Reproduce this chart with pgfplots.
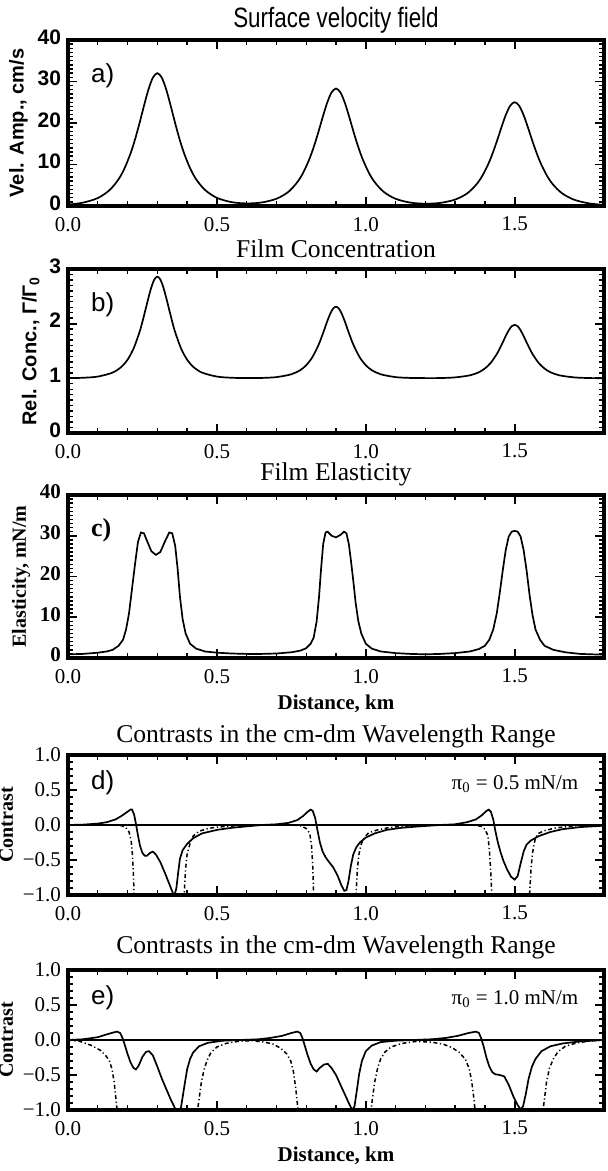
\documentclass[border=0pt]{standalone}
\usepackage{fontspec}
\setmainfont{Liberation Serif}
\setsansfont{Liberation Sans}
\newfontfamily\narrowsans[FakeStretch=0.80]{Liberation Sans}
\usepackage{pgfplots}
\pgfplotsset{compat=1.18}
\pgfplotsset{
 panel/.style={
  scale only axis, width=268pt, anchor=south west,
  xmin=0, xmax=1.8,
  xtick={0,0.5,1,1.5}, xticklabels={0.0,0.5,1.0,1.5},
  minor x tick num=4,
  tick align=inside,
  major tick length=4.5pt, minor tick length=2.5pt,
  every tick/.style={black, line width=0.9pt},
  every minor tick/.style={black, line width=0.7pt},
  axis line style={line width=1.6pt},
  /pgf/number format/assume math mode=true,
  tick label style={font=\fontsize{10.5}{12}\selectfont},
  xticklabel style={yshift=-2pt},
  title style={font=\fontsize{12.8}{15}\selectfont, yshift=-4pt},
  xlabel style={font=\bfseries\fontsize{10.5}{12}\selectfont, yshift=1pt},
  clip=true,
 },
 curve/.style={black, line width=0.85pt, mark=none},
 dd/.style={black, line width=0.75pt, mark=none, dash pattern=on 2pt off 1.3pt on 0.6pt off 1.3pt},
}
\begin{document}
\begin{tikzpicture}
\path[use as bounding box] (0,0) rectangle (303.5pt,585.5pt);

% ---------------- a) ----------------
\begin{axis}[panel, at={(34pt,482.5pt)}, height=83pt,
  ymin=0, ymax=40, ytick={0,10,20,30,40}, yticklabels={0,10,20,30,40},
  minor y tick num=9,
  yticklabel style={font=\sffamily\bfseries\fontsize{10.5}{12}\selectfont, yshift=1.5pt},
  ylabel={Vel. Amp., cm/s},
  ylabel style={font=\sffamily\bfseries\fontsize{10}{12}\selectfont, yshift=-2pt},
  title={\narrowsans Surface velocity field},
  title style={font=\fontsize{14}{16}\selectfont, yshift=-2pt}]
\addplot[curve, smooth] coordinates {
(0.00,0.33) (0.05,0.80) (0.10,1.91) (0.14,3.85) (0.17,6.47) (0.19,9.10)
(0.21,12.66) (0.225,16.01) (0.24,19.91) (0.255,24.10) (0.27,28.03) (0.285,30.92)
(0.30,32.0) (0.315,30.92) (0.33,28.03) (0.345,24.10) (0.36,19.91) (0.375,16.01)
(0.39,12.66) (0.41,9.10) (0.43,6.47) (0.46,3.87) (0.50,1.96) (0.55,0.92)
(0.60,0.62) (0.65,0.84) (0.70,1.74) (0.74,3.40) (0.77,5.73) (0.79,8.05)
(0.81,11.20) (0.825,14.16) (0.84,17.61) (0.855,21.32) (0.87,24.79) (0.885,27.35)
(0.90,28.3) (0.915,27.35) (0.93,24.79) (0.945,21.32) (0.96,17.61) (0.975,14.16)
(0.99,11.20) (1.01,8.05) (1.03,5.73) (1.06,3.42) (1.10,1.73) (1.15,0.81)
(1.20,0.55) (1.25,0.74) (1.30,1.54) (1.34,3.01) (1.37,5.06) (1.39,7.11)
(1.41,9.89) (1.425,12.51) (1.44,15.55) (1.455,18.83) (1.47,21.9) (1.485,24.16)
(1.50,25.0) (1.515,24.16) (1.53,21.9) (1.545,18.83) (1.56,15.55) (1.575,12.51)
(1.59,9.89) (1.61,7.11) (1.63,5.06) (1.66,3.01) (1.70,1.50) (1.75,0.62) (1.80,0.26)};
\node[anchor=north west, font=\sffamily\fontsize{13}{15}\selectfont] at (rel axis cs:0.03,0.90) {a)};
\end{axis}

% ---------------- b) ----------------
\begin{axis}[panel, at={(34pt,369pt)}, height=82pt,
  ymin=0, ymax=3, ytick={0,1,2,3}, yticklabels={0,1,2,3},
  minor y tick num=9,
  yticklabel style={font=\sffamily\bfseries\fontsize{10.5}{12}\selectfont, yshift=1.5pt},
  ylabel={Rel. Conc., Γ/Γ\textsubscript{0}},
  ylabel style={font=\sffamily\bfseries\fontsize{10}{12}\selectfont, yshift=-2pt},
  title={Film Concentration}]
\addplot[curve, smooth] coordinates {
(0.00,1.003) (0.05,1.010) (0.10,1.032) (0.15,1.105) (0.18,1.213) (0.20,1.341)
(0.22,1.542) (0.24,1.843) (0.25,2.036) (0.26,2.250) (0.27,2.469) (0.28,2.667)
(0.29,2.808) (0.30,2.86) (0.31,2.808) (0.32,2.667) (0.33,2.469) (0.34,2.250)
(0.35,2.036) (0.36,1.843) (0.38,1.542) (0.40,1.341) (0.42,1.213) (0.45,1.105)
(0.50,1.032) (0.55,1.010) (0.60,1.005) (0.65,1.007) (0.70,1.022) (0.75,1.074)
(0.78,1.150) (0.80,1.240) (0.82,1.381) (0.84,1.594) (0.85,1.730) (0.86,1.880)
(0.87,2.035) (0.88,2.174) (0.89,2.274) (0.90,2.31) (0.91,2.274) (0.92,2.174)
(0.93,2.035) (0.94,1.880) (0.95,1.730) (0.96,1.594) (0.98,1.381) (1.00,1.240)
(1.02,1.150) (1.05,1.074) (1.10,1.022) (1.15,1.007) (1.20,1.004) (1.25,1.005)
(1.30,1.017) (1.35,1.055) (1.38,1.112) (1.40,1.180) (1.42,1.285) (1.44,1.444)
(1.45,1.546) (1.46,1.658) (1.47,1.774) (1.48,1.878) (1.49,1.953) (1.50,1.98)
(1.51,1.953) (1.52,1.878) (1.53,1.774) (1.54,1.658) (1.55,1.546) (1.56,1.444)
(1.58,1.285) (1.60,1.180) (1.62,1.112) (1.65,1.055) (1.70,1.017) (1.75,1.005) (1.80,1.002)};
\node[anchor=north west, font=\sffamily\fontsize{13}{15}\selectfont] at (rel axis cs:0.03,0.90) {b)};
\end{axis}

% ---------------- c) ----------------
\begin{axis}[panel, at={(34pt,256.5pt)}, height=81.5pt,
  ymin=0, ymax=40, ytick={0,10,20,30,40}, yticklabels={0,10,20,30,40},
  minor y tick num=9,
  yticklabel style={font=\bfseries\fontsize{10.5}{12}\selectfont, yshift=1.5pt},
  ylabel={Elasticity, mN/m},
  ylabel style={font=\bfseries\fontsize{10}{12}\selectfont, yshift=-2pt},
  xlabel={Distance, km},
  title={Film Elasticity},
  title style={yshift=-1pt}]
\addplot[curve] coordinates {
(0.00,0.9) (0.05,1.0) (0.10,1.3) (0.13,1.6) (0.15,2.0) (0.17,3.0) (0.185,4.5)
(0.195,7) (0.205,11) (0.215,17) (0.225,23) (0.235,28.5) (0.245,30.8) (0.255,30.6)
(0.265,28.8) (0.28,26.2) (0.295,25.3) (0.31,26.0) (0.325,28.5) (0.34,30.8)
(0.35,30.6) (0.36,27.5) (0.368,22) (0.376,15) (0.385,9.5) (0.395,6) (0.41,3.5)
(0.43,2.3) (0.46,1.6) (0.50,1.3) (0.55,1.1) (0.60,1.0) (0.65,1.0) (0.70,1.1)
(0.75,1.4) (0.78,1.8) (0.80,2.4) (0.815,3.5) (0.825,5) (0.835,9) (0.843,15)
(0.85,22) (0.857,28) (0.865,30.8) (0.872,31.0) (0.885,30.0) (0.90,29.6)
(0.915,30.2) (0.927,31.0) (0.935,30.6) (0.943,28) (0.95,24) (0.958,19)
(0.966,13.5) (0.975,9) (0.985,6) (1.00,3.5) (1.02,2.3) (1.05,1.6) (1.10,1.2)
(1.15,1.0) (1.20,0.9) (1.25,1.0) (1.30,1.2) (1.35,1.6) (1.38,2.2) (1.40,3.0)
(1.415,4.5) (1.428,7) (1.44,11) (1.45,16) (1.46,21.5) (1.47,26.5) (1.48,29.8)
(1.49,31.0) (1.50,31.2) (1.51,31.0) (1.52,29.8) (1.53,26.5) (1.54,21.5)
(1.55,15.5) (1.56,10.5) (1.57,7) (1.585,4.5) (1.60,3.0) (1.63,2.0) (1.67,1.4)
(1.72,1.0) (1.80,0.8)};
\node[anchor=north west, font=\fontsize{13}{15}\selectfont\bfseries] at (rel axis cs:0.03,0.90) {c)};
\end{axis}

% ---------------- d) ----------------
\begin{axis}[panel, at={(34pt,138pt)}, height=70pt,
  ymin=-1, ymax=1, ytick={-1,-0.5,0,0.5,1},
  yticklabels={−1.0,−0.5,0.0,0.5,1.0},
  minor y tick num=4,
  ylabel={Contrast},
  ylabel style={font=\bfseries\fontsize{10}{12}\selectfont, yshift=-2pt},
  title={Contrasts in the cm-dm Wavelength Range},
  title style={yshift=-2pt}]
\addplot[black, line width=0.7pt] coordinates {(0,0) (1.8,0)};
\addplot[curve] coordinates {
(0.00,0.00) (0.05,0.005) (0.10,0.02) (0.13,0.04) (0.16,0.08) (0.18,0.13)
(0.20,0.19) (0.21,0.22) (0.215,0.22) (0.222,0.15) (0.228,0.02) (0.235,-0.15)
(0.242,-0.30) (0.25,-0.40) (0.258,-0.44) (0.265,-0.44) (0.275,-0.40) (0.285,-0.38)
(0.295,-0.42) (0.31,-0.53) (0.325,-0.68) (0.34,-0.84) (0.352,-0.97) (0.358,-1.00)
(0.364,-0.90) (0.370,-0.68) (0.376,-0.48) (0.385,-0.36) (0.40,-0.27) (0.42,-0.19)
(0.45,-0.12) (0.50,-0.07) (0.55,-0.04) (0.60,-0.02) (0.65,0.00) (0.70,0.01)
(0.74,0.03) (0.77,0.07) (0.79,0.13) (0.805,0.19) (0.815,0.22) (0.822,0.20)
(0.83,0.10) (0.838,-0.08) (0.846,-0.25) (0.855,-0.38) (0.865,-0.46) (0.875,-0.52)
(0.89,-0.60) (0.905,-0.72) (0.918,-0.86) (0.928,-0.94) (0.935,-0.93) (0.942,-0.80)
(0.95,-0.58) (0.958,-0.42) (0.968,-0.32) (0.98,-0.25) (1.00,-0.18) (1.03,-0.12)
(1.07,-0.07) (1.12,-0.04) (1.18,-0.02) (1.25,0.00) (1.30,0.01) (1.34,0.04)
(1.37,0.08) (1.39,0.14) (1.405,0.20) (1.413,0.22) (1.42,0.19) (1.428,0.08)
(1.435,-0.08) (1.443,-0.24) (1.452,-0.38) (1.462,-0.51) (1.475,-0.64) (1.488,-0.74)
(1.50,-0.78) (1.51,-0.73) (1.52,-0.55) (1.53,-0.38) (1.54,-0.28) (1.555,-0.22)
(1.58,-0.16) (1.62,-0.10) (1.66,-0.06) (1.72,-0.03) (1.80,-0.01)};
\addplot[dd] coordinates {
(0.00,0.0) (0.15,0.0) (0.18,-0.01) (0.195,-0.04) (0.205,-0.10) (0.212,-0.22)
(0.217,-0.45) (0.22,-0.75) (0.222,-1.0) (0.226,-1.5) (0.38,-1.5) (0.385,-1.2)
(0.39,-1.0) (0.395,-0.62) (0.40,-0.42) (0.41,-0.26) (0.42,-0.16) (0.44,-0.09)
(0.47,-0.05) (0.50,-0.03) (0.55,-0.015) (0.60,-0.005) (0.65,0) (0.75,0)
(0.78,-0.01) (0.80,-0.05) (0.812,-0.12) (0.818,-0.3) (0.822,-0.6) (0.825,-1.0)
(0.83,-1.5) (0.955,-1.5) (0.962,-1.2) (0.967,-1.0) (0.972,-0.62) (0.977,-0.42)
(0.985,-0.27) (0.995,-0.18) (1.01,-0.11) (1.04,-0.07) (1.08,-0.035) (1.14,-0.015)
(1.2,0.0) (1.36,0.0) (1.39,-0.02) (1.40,-0.06) (1.41,-0.15) (1.415,-0.35)
(1.42,-0.7) (1.423,-1.0) (1.43,-1.5) (1.535,-1.5) (1.545,-1.2) (1.55,-1.0)
(1.555,-0.62) (1.56,-0.40) (1.565,-0.28) (1.57,-0.18) (1.58,-0.12) (1.60,-0.08)
(1.64,-0.04) (1.70,-0.015) (1.80,0.0)};
\node[anchor=west, font=\sffamily\fontsize{13}{15}\selectfont] at (rel axis cs:0.03,0.80) {d)};
\node[anchor=east, font=\fontsize{10.5}{12}\selectfont] at (rel axis cs:0.965,0.79) {π\textsubscript{0} = 0.5 mN/m};
\end{axis}

% ---------------- e) ----------------
\begin{axis}[panel, at={(34pt,30.5pt)}, height=70pt,
  ymin=-1, ymax=1, ytick={-1,-0.5,0,0.5,1},
  yticklabels={−1.0,−0.5,0.0,0.5,1.0},
  minor y tick num=4,
  ylabel={Contrast},
  ylabel style={font=\bfseries\fontsize{10}{12}\selectfont, yshift=-2pt},
  xlabel={Distance, km},
  title={Contrasts in the cm-dm Wavelength Range}]
\addplot[black, line width=0.7pt] coordinates {(0,0) (1.8,0)};
\addplot[curve] coordinates {
(0.00,0.00) (0.05,0.01) (0.10,0.04) (0.13,0.08) (0.155,0.11) (0.165,0.12)
(0.175,0.10) (0.183,0.03) (0.19,-0.06) (0.20,-0.20) (0.21,-0.32) (0.22,-0.40)
(0.228,-0.42) (0.237,-0.37) (0.25,-0.24) (0.262,-0.17) (0.272,-0.16) (0.285,-0.22)
(0.30,-0.38) (0.315,-0.55) (0.33,-0.70) (0.345,-0.85) (0.36,-0.98) (0.372,-1.08)
(0.38,-0.95) (0.39,-0.68) (0.40,-0.42) (0.41,-0.27) (0.42,-0.18) (0.44,-0.09)
(0.47,-0.04) (0.52,-0.01) (0.58,0.0) (0.64,0.01) (0.68,0.03) (0.72,0.06)
(0.75,0.10) (0.77,0.12) (0.78,0.10) (0.788,0.02) (0.795,-0.08) (0.805,-0.22)
(0.815,-0.34) (0.825,-0.42) (0.835,-0.45) (0.845,-0.40) (0.86,-0.35) (0.872,-0.34)
(0.885,-0.40) (0.90,-0.50) (0.915,-0.64) (0.93,-0.78) (0.945,-0.92) (0.955,-1.0)
(0.962,-0.95) (0.97,-0.72) (0.978,-0.48) (0.987,-0.30) (1.00,-0.16) (1.02,-0.08)
(1.05,-0.03) (1.10,-0.01) (1.16,0.0) (1.22,0.01) (1.27,0.03) (1.31,0.06)
(1.345,0.10) (1.37,0.12) (1.38,0.10) (1.388,0.02) (1.395,-0.08) (1.405,-0.25)
(1.415,-0.38) (1.425,-0.46) (1.435,-0.49) (1.45,-0.50) (1.465,-0.52) (1.48,-0.64)
(1.495,-0.80) (1.51,-0.93) (1.52,-0.99) (1.528,-0.95) (1.537,-0.78) (1.547,-0.55)
(1.558,-0.38) (1.57,-0.27) (1.59,-0.16) (1.62,-0.09) (1.66,-0.05) (1.72,-0.02) (1.80,0.0)};
\addplot[dd] coordinates {
(0.00,0.00) (0.04,-0.02) (0.08,-0.08) (0.11,-0.15) (0.13,-0.24) (0.14,-0.31)
(0.148,-0.42) (0.155,-0.6) (0.16,-0.8) (0.165,-1.0) (0.17,-1.3) (0.42,-1.3)
(0.432,-1.1) (0.44,-0.85) (0.448,-0.6) (0.457,-0.42) (0.468,-0.28) (0.48,-0.18)
(0.50,-0.10) (0.53,-0.05) (0.57,-0.02) (0.62,-0.01) (0.66,-0.03) (0.69,-0.06)
(0.715,-0.12) (0.735,-0.20) (0.748,-0.30) (0.757,-0.45) (0.765,-0.7) (0.77,-0.9)
(0.774,-1.05) (0.78,-1.3) (1.00,-1.3) (1.015,-1.1) (1.022,-0.85) (1.03,-0.6)
(1.04,-0.40) (1.05,-0.27) (1.065,-0.17) (1.085,-0.10) (1.12,-0.05) (1.17,-0.02)
(1.22,-0.03) (1.26,-0.06) (1.29,-0.11) (1.315,-0.18) (1.335,-0.28) (1.348,-0.42)
(1.356,-0.6) (1.362,-0.8) (1.367,-1.0) (1.372,-1.3) (1.58,-1.3) (1.592,-1.1)
(1.60,-0.85) (1.607,-0.6) (1.617,-0.40) (1.63,-0.27) (1.645,-0.17) (1.67,-0.09)
(1.71,-0.04) (1.76,-0.01) (1.80,0.0)};
\node[anchor=west, font=\sffamily\fontsize{13}{15}\selectfont] at (rel axis cs:0.03,0.80) {e)};
\node[anchor=east, font=\fontsize{10.5}{12}\selectfont] at (rel axis cs:0.965,0.79) {π\textsubscript{0} = 1.0 mN/m};
\end{axis}
\end{tikzpicture}
\end{document}
